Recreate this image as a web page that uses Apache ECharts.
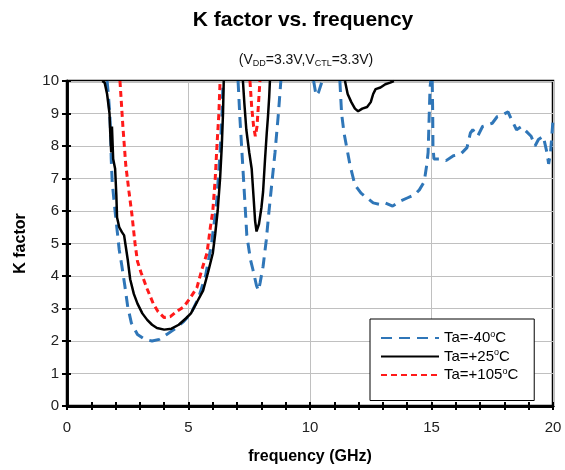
<!DOCTYPE html>
<html><head><meta charset="utf-8">
<script src="https://cdn.jsdelivr.net/npm/echarts@6/dist/echarts.min.js"></script>
<style>html,body{margin:0;padding:0;background:#fff}#c{width:565px;height:470px}</style>
</head><body><div id="c"></div>
<script>
const seriesNames = ['Ta=-40{sup|o}C', 'Ta=+25{sup|o}C', 'Ta=+105{sup|o}C'];
const xTicks = [0, 5, 10, 15, 20];
const yTicks = [0, 1, 2, 3, 4, 5, 6, 7, 8, 9, 10];
const tempM40 = [[1.65,10],[1.7,9.6],[1.76,9.0],[1.8,8.3],[1.82,7.6],[1.86,6.9],[1.95,6.2],[2.05,5.5],[2.15,4.8],[2.26,4.3],[2.38,3.7],[2.5,3.05],[2.65,2.55],[2.9,2.2],[3.2,2.05],[3.5,2.0],[3.8,2.05],[4.1,2.2],[4.4,2.35],[4.8,2.6],[5.1,2.85],[5.4,3.3],[5.7,4.0],[5.95,5.0],[6.15,6.2],[6.3,7.8],[6.38,9.0],[6.42,10],null,
 [7.04,10],[7.12,8.8],[7.24,7.3],[7.4,5.25],[7.55,4.5],[7.65,4.2],[7.8,3.7],[7.88,3.55],[7.95,3.8],[8.07,4.3],[8.2,5.1],[8.3,5.9],[8.45,7.0],[8.56,7.8],[8.7,9.0],[8.8,10],null,
 [10.15,10],[10.25,9.55],[10.35,9.65],[10.5,10],null,
 [11.23,10],[11.3,9.0],[11.4,8.4],[11.5,8.0],[11.65,7.4],[11.85,6.8],[12.1,6.55],[12.35,6.4],[12.6,6.25],[12.9,6.2],[13.1,6.25],[13.4,6.15],[13.7,6.3],[14.0,6.4],[14.3,6.5],[14.5,6.65],[14.7,6.9],[14.8,7.4],[14.86,7.8],[14.9,8.8],[14.94,9.8],[14.97,10],null,
 [15.03,10],[15.05,9.0],[15.06,8.0],[15.1,7.6],[15.35,7.6],[15.6,7.55],[15.9,7.7],[16.2,7.75],[16.46,7.95],[16.6,8.4],[16.7,8.5],[16.9,8.3],[17.1,8.6],[17.3,8.65],[17.5,8.7],[17.7,8.9],[17.9,8.95],[18.15,9.05],[18.3,8.8],[18.5,8.5],[18.7,8.6],[18.9,8.45],[19.1,8.3],[19.26,8.0],[19.4,8.2],[19.6,8.3],[19.75,7.8],[19.82,7.45],[19.9,7.8],[20,8.8]];
const temp25 = [[1.45,10],[1.55,9.95],[1.65,9.6],[1.75,9.0],[1.78,8.4],[1.82,7.8],[1.85,8.6],[1.9,7.6],[1.98,7.3],[2.03,6.5],[2.06,5.8],[2.15,5.5],[2.26,5.35],[2.35,5.25],[2.42,4.9],[2.5,4.5],[2.6,3.9],[2.75,3.45],[2.9,3.15],[3.1,2.85],[3.3,2.65],[3.5,2.5],[3.7,2.4],[4.0,2.35],[4.3,2.38],[4.6,2.5],[4.9,2.7],[5.1,2.85],[5.35,3.2],[5.6,3.55],[5.8,4.1],[6.0,4.7],[6.1,5.3],[6.2,6.0],[6.3,7.0],[6.37,8.0],[6.42,9.0],[6.45,10],null,
 [7.24,10],[7.3,9.3],[7.38,8.5],[7.5,7.8],[7.6,7.3],[7.68,6.4],[7.74,5.7],[7.8,5.37],[7.9,5.6],[8.0,6.1],[8.07,6.6],[8.15,7.6],[8.22,8.4],[8.27,8.9],[8.32,9.5],[8.35,10],null,
 [11.44,10],[11.55,9.6],[11.7,9.35],[11.85,9.15],[11.98,9.07],[12.15,9.15],[12.35,9.2],[12.5,9.35],[12.6,9.6],[12.7,9.75],[12.9,9.8],[13.1,9.9],[13.3,9.95],[13.45,10]];
const temp105 = [[2.18,10],[2.3,8.6],[2.42,7.4],[2.55,6.6],[2.67,5.9],[2.8,5.0],[2.9,4.45],[3.05,4.1],[3.3,3.6],[3.55,3.15],[3.75,2.9],[4.0,2.72],[4.25,2.75],[4.5,2.9],[4.8,3.05],[5.05,3.3],[5.35,3.65],[5.55,4.2],[5.76,4.7],[5.9,5.5],[6.0,6.0],[6.1,7.0],[6.17,8.0],[6.25,9.0],[6.3,10],null,
 [7.53,10],[7.6,9.2],[7.68,8.6],[7.75,8.3],[7.82,8.6],[7.88,9.3],[7.94,10]];

const chart = echarts.init(document.getElementById('c'));
const font = '"Liberation Sans", Arial, sans-serif';
const axisLine = {show: true, lineStyle: {color: '#000', width: 2.5}};
chart.setOption({
  animation: false,
  textStyle: {fontFamily: font},
  title: [
    {text: 'K factor vs. frequency', left: 298, top: 5, textAlign: 'center',
     textStyle: {fontSize: 21, fontWeight: 'bold', color: '#000', fontFamily: font}},
    {text: '(V{sub|DD}=3.3V,V{sub|CTL}=3.3V)', left: 301, top: 47, textAlign: 'center',
     textStyle: {fontSize: 14, fontWeight: 'normal', color: '#111', fontFamily: font,
       rich: {sub: {fontSize: 9, fontWeight: 'normal', padding: [7, 0, 0, 0], fontFamily: font, color: '#111'}}}}
  ],
  grid: {left: 67, right: 12, top: 81, bottom: 61, show: true, borderColor: '#000', borderWidth: 2.5, backgroundColor: 'transparent'},
  legend: {
    left: 370, top: 319, width: 168, orient: 'vertical',
    backgroundColor: '#fff', borderColor: '#000', borderWidth: 1,
    padding: [11, 16, 18, 10], itemGap: 3, itemWidth: 58, itemHeight: 14,
    itemStyle: {opacity: 0},
    data: seriesNames,
    textStyle: {fontSize: 15, color: '#000', fontFamily: font,
      rich: {sup: {fontSize: 9, padding: [0, 0, 7, 0], color: '#000', fontFamily: font}}}
  },
  xAxis: [
    {type: 'value', min: 0, max: 20, interval: 5, axisLine: axisLine,
     axisTick: {show: false},
     axisLabel: {fontSize: 15, color: '#222', margin: 14, fontFamily: font, customValues: xTicks},
     splitLine: {show: true, lineStyle: {color: '#c0c0c0', width: 1}},
     name: 'frequency (GHz)', nameLocation: 'middle', nameGap: 43,
     nameTextStyle: {fontSize: 16, fontWeight: 'bold', color: '#000', fontFamily: font}},
    {type: 'value', min: 0, max: 20, interval: 1, position: 'bottom', axisLine: axisLine,
     axisTick: {show: true, length: 4, lineStyle: {color: '#000', width: 2}},
     axisLabel: {show: false}, splitLine: {show: false}},
    {type: 'value', min: 0, max: 20, interval: 1, position: 'bottom', axisLine: axisLine,
     axisTick: {show: true, inside: true, length: 4, lineStyle: {color: '#000', width: 2}},
     axisLabel: {show: false}, splitLine: {show: false}}
  ],
  yAxis: [
    {type: 'value', min: 0, max: 10, interval: 1, axisLine: axisLine,
     axisTick: {show: true, length: 5, lineStyle: {color: '#000', width: 2}},
     axisLabel: {fontSize: 15, color: '#222', margin: 8, fontFamily: font, customValues: yTicks},
     splitLine: {show: true, lineStyle: {color: '#c0c0c0', width: 1}},
     name: 'K factor', nameLocation: 'middle', nameGap: 38, nameRotate: 90,
     nameTextStyle: {fontSize: 16, fontWeight: 'bold', color: '#000', fontFamily: font}},
    {type: 'value', min: 0, max: 10, interval: 1, position: 'left', axisLine: axisLine,
     axisTick: {show: true, inside: true, length: 4, lineStyle: {color: '#000', width: 2}},
     axisLabel: {show: false}, splitLine: {show: false}}
  ],
  series: [
    {name: seriesNames[0], type: 'line', data: tempM40, symbol: 'none', connectNulls: false,
     color: '#2f76b8', lineStyle: {color: '#2f76b8', width: 3, type: [11, 7]}},
    {name: seriesNames[1], type: 'line', data: temp25, symbol: 'none', connectNulls: false,
     color: '#000', lineStyle: {color: '#000', width: 2.5, type: 'solid'}},
    {name: seriesNames[2], type: 'line', data: temp105, symbol: 'none', connectNulls: false,
     color: '#ff1a1a', lineStyle: {color: '#ff1a1a', width: 3, type: [6, 4]}}
  ]
});
</script></body></html>
